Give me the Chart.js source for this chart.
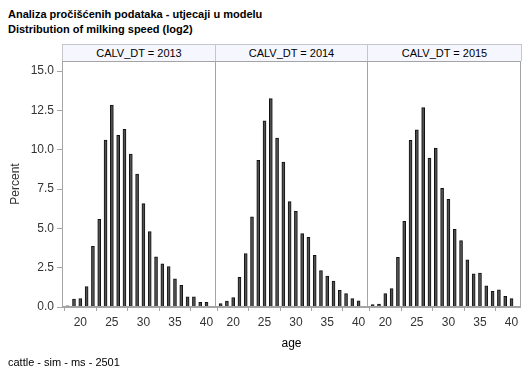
<!DOCTYPE html>
<html><head><meta charset="utf-8">
<script src="https://cdn.jsdelivr.net/npm/chart.js@4"></script>
<style>
body{margin:0;background:#fff;width:529px;height:378px;overflow:hidden;position:relative;font-family:"Liberation Sans",Arial,sans-serif;color:#000;}
.t{position:absolute;left:8px;font-size:11px;font-weight:bold;line-height:13px;white-space:nowrap;}
.hdr{position:absolute;top:44px;height:16px;border:1px solid #c4c6cc;border-bottom:none;background:#f6f7fe;font-size:11px;line-height:16px;text-align:center;box-sizing:content-box;}
canvas{position:absolute;top:61px;}
#age{position:absolute;left:62px;width:459px;top:336px;text-align:center;font-size:12px;line-height:14px;}
#foot{position:absolute;left:8px;top:356px;font-size:11px;line-height:13px;}
</style></head>
<body>
<div class="t" style="top:8px">Analiza pročišćenih podataka - utjecaji u modelu</div>
<div class="t" style="top:23px">Distribution of milking speed (log2)</div>
<div class="hdr" id="h0" style="left:62px;width:152px"></div>
<div class="hdr" id="h1" style="left:215px;width:151px"></div>
<div class="hdr" id="h2" style="left:367px;width:153px"></div>
<canvas id="c0" width="216" height="276" style="left:0px"></canvas>
<canvas id="c1" width="153" height="276" style="left:215px"></canvas>
<canvas id="c2" width="154" height="276" style="left:367px"></canvas>
<div id="age">age</div>
<div id="foot">cattle - sim - ms - 2501</div>
<script>
const ages = [18,19,20,21,22,23,24,25,26,27,28,29,30,31,32,33,34,35,36,37,38,39,40];
const pct2013 = [0.08,0.51,0.53,1.30,3.85,5.57,10.62,12.83,10.91,11.30,9.72,8.45,6.57,4.79,3.19,2.74,2.57,1.79,1.38,0.64,0.64,0.30,0.30];
const pct2014 = [0.21,0.38,0.60,1.89,3.40,5.74,9.32,11.83,13.25,10.74,9.21,6.70,6.09,4.66,4.43,3.28,2.32,1.96,1.64,1.06,0.85,0.53,0.40];
const pct2015 = [0.15,0.19,0.85,1.17,3.15,5.45,10.60,11.26,12.68,9.47,10.11,7.55,6.85,4.94,4.23,3.00,2.11,2.15,1.34,1.00,1.09,0.68,0.53];
const panelLabels = ['CALV_DT = 2013','CALV_DT = 2014','CALV_DT = 2015'];
const yTicks = [0,2.5,5,7.5,10,12.5,15];
const xTicks = [20,25,30,35,40];
const yLabel = 'Percent';

const series = [pct2013, pct2014, pct2015];
const frame = {id:'frame', afterDraw(c){const a=c.chartArea, ctx=c.ctx; ctx.save(); ctx.strokeStyle='#a4a4a4'; ctx.lineWidth=1; ctx.strokeRect(Math.round(a.left)+0.5, Math.round(a.top)+0.5, Math.round(a.right-a.left)-1, Math.round(a.bottom-a.top)-1); ctx.restore();}};
const tickFont = {family:'"Liberation Sans", Arial, sans-serif', size:12};

series.forEach((vals, i) => {
  document.getElementById('h'+i).textContent = panelLabels[i];
  const first = i === 0;
  new Chart(document.getElementById('c'+i), {
    type:'bar',
    data:{datasets:[{data: ages.map((a,k)=>({x:a,y:vals[k]})), backgroundColor:'#505050', borderColor:'#111', borderWidth:1, barThickness:3}]},
    options:{
      responsive:false, animation:false, devicePixelRatio:1,
      layout:{padding:{left:0,right:0,top:0,bottom:0}},
      plugins:{legend:{display:false}, tooltip:{enabled:false}},
      scales:{
        x:{type:'linear', min:17.1, max:41.5, offset:false,
           afterBuildTicks:s=>{s.ticks = xTicks.map(v=>({value:v}));},
           afterFit:s=>{s.height=30; s.paddingLeft=0; s.paddingRight=0;},
           grid:{display:true, drawOnChartArea:false, drawTicks:true, tickLength:4, color:'#a4a4a4'},
           border:{display:true, color:'#a4a4a4'},
           ticks:{font:tickFont, color:'#333', padding:4, maxRotation:0, autoSkip:false}},
        y:{type:'linear', min:0, max:15.64, display:first,
           afterBuildTicks:s=>{s.ticks = yTicks.map(v=>({value:v}));},
           afterFit:s=>{ if(first){s.width=62;} else {s.width=0;} s.paddingTop=0; s.paddingBottom=0;},
           grid:{display:true, drawOnChartArea:false, drawTicks:true, tickLength:5, color:'#a4a4a4'},
           border:{display:true, color:'#a4a4a4'},
           title:{display:true, text:yLabel, font:tickFont, color:'#333', padding:{top:8,bottom:0}},
           ticks:{font:tickFont, color:'#333', padding:3, callback:v=>Number(v).toFixed(1)}}
      }
    },
    plugins:[frame]
  });
});
</script>
</body></html>
